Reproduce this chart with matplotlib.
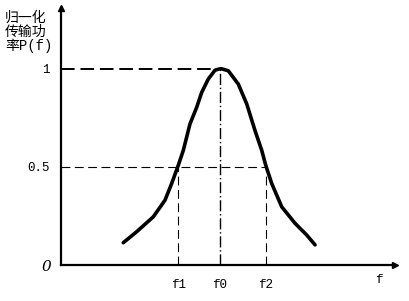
import matplotlib.pyplot as plt

# curve (x in arbitrary frequency units, y = normalised power)
freq = [1.865, 2.266, 2.763, 3.114, 3.314, 3.512, 3.662, 3.862, 4.063, 4.213, 4.410, 4.611, 4.760,
        4.811, 5.009, 5.308, 5.560, 5.808, 6.009, 6.129, 6.308, 6.608, 7.006, 7.356, 7.605]
power = [0.113, 0.169, 0.245, 0.330, 0.415, 0.508, 0.584, 0.719, 0.804, 0.880, 0.948, 0.993, 1.0,
         1.0, 0.990, 0.922, 0.821, 0.685, 0.584, 0.508, 0.415, 0.296, 0.212, 0.152, 0.102]

f1, f0, f2 = 3.51, 4.76, 6.13
tick_pos = [f1, f0, f2]
tick_labels = ['f1', 'f0', 'f2']
y_ticks = [0.5, 1]
y_tick_labels = ['0.5', '1']

mono = ['Liberation Mono', 'Noto Sans CJK SC']

fig = plt.figure(figsize=(4.09, 3.01), dpi=100)
ax = fig.add_axes([0.149, 0.120, 0.817, 0.854])
ax.set_xlim(0, 10)
ax.set_ylim(0, 1.005 * 257 / 197)

ax.plot(freq, power, color='black', lw=2.6, solid_capstyle='round', solid_joinstyle='round')

ax.plot([0, f0], [1, 1], color='black', lw=1.4, dashes=(7, 3))
ax.plot([f0, f0], [0, 1], color='black', lw=1.0, dashes=(8, 2, 1, 2))
ax.plot([0, f2], [0.5, 0.5], color='black', lw=0.8, dashes=(8, 4))
ax.plot([f1, f1], [0, 0.5], color='black', lw=0.8, dashes=(8, 4))
ax.plot([f2, f2], [0, 0.5], color='black', lw=0.8, dashes=(8, 4))

for s in ['top', 'right']:
    ax.spines[s].set_visible(False)
ax.spines['left'].set_linewidth(1.6)
ax.spines['bottom'].set_linewidth(1.6)
ax.plot(1, 0, '>', color='black', ms=5, transform=ax.transAxes, clip_on=False)
ax.plot(0, 1, '^', color='black', ms=4, transform=ax.transAxes, clip_on=False)

ax.set_xticks(tick_pos)
ax.set_xticklabels(tick_labels, family=mono, fontsize=9)
ax.set_yticks(y_ticks)
ax.set_yticklabels(y_tick_labels, family=mono, fontsize=9)
ax.tick_params(axis='x', length=0, pad=10)
ax.tick_params(axis='y', length=0, pad=8)

ax.text(-0.45, -0.01, '0', style='italic', fontsize=11, ha='center', va='center',
        family='DejaVu Serif')
ax.text(9.5, -0.075, 'f', family=mono, fontsize=9, ha='center', va='center')
fig.text(0.012, 0.965, '归一化\n传输功\n率P(f)', family=mono, fontsize=10,
         ha='left', va='top', linespacing=1.0)

fig.savefig('out.png', dpi=100)
